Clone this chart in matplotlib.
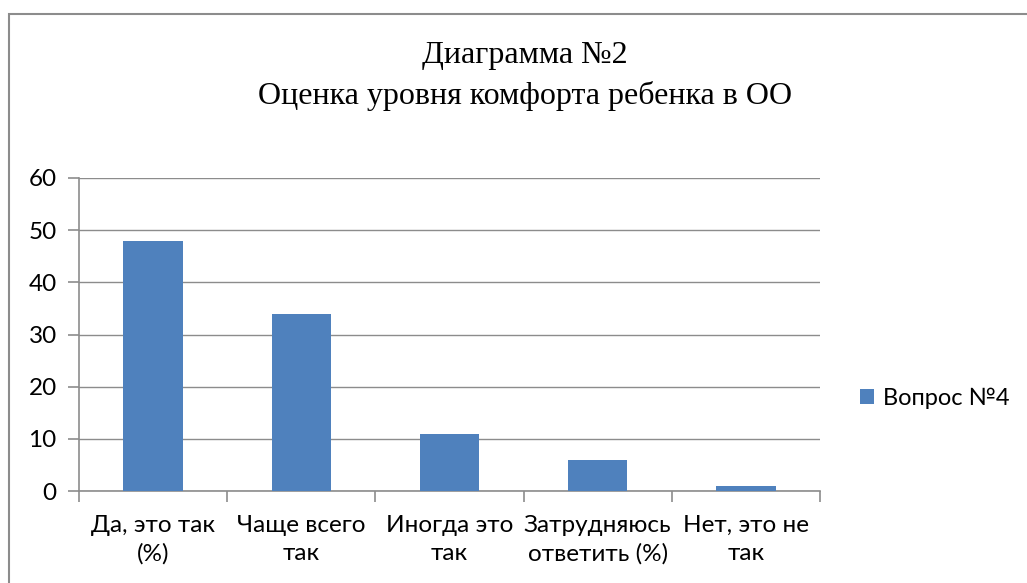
import matplotlib
matplotlib.use('Agg')
import matplotlib.pyplot as plt
from matplotlib.patches import Rectangle

# data
categories = ['Да, это так\n(%)', 'Чаще всего\nтак', 'Иногда это\nтак',
              'Затрудняюсь\nответить (%)', 'Нет, это не\nтак']
values = [48, 34, 11, 6, 1]
series_name = 'Вопрос №4'
title = 'Диаграмма №2\nОценка уровня комфорта ребенка в ОО'

plt.rcParams['font.family'] = ['Lato', 'DejaVu Sans']

fig = plt.figure(figsize=(10.27, 5.83), dpi=100)
ax = fig.add_axes([79 / 1027, 1 - 491 / 583, 741 / 1027, 313 / 583])

# chart border (cropped at right and bottom)
fig.patches.append(Rectangle((9 / 1027, -0.1), 1.2, 1 - 14 / 583 + 0.1,
                             transform=fig.transFigure, fill=False,
                             edgecolor='#8c8c8c', linewidth=1.5))

pos = list(range(len(values)))
ax.bar(pos, values, 0.4, color='#4f81bd', label=series_name, zorder=3)

ax.set_xlim(-0.5, len(values) - 0.5)
ax.set_ylim(0, 60)
ax.set_yticks(range(0, 61, 10))
ax.yaxis.grid(True, color='#8c8c8c', linewidth=1)
ax.set_axisbelow(True)

ax.set_xticks(pos)
ax.set_xticklabels(categories, fontsize=17.5, linespacing=1.42)
ax.tick_params(axis='x', length=0, pad=17)
ax.set_xticks([p - 0.5 for p in range(len(values) + 1)], minor=True)
ax.tick_params(axis='x', which='minor', length=8, color='#8c8c8c', width=1.2)
ax.tick_params(axis='y', length=8, color='#8c8c8c', width=1.2, labelsize=17.5, pad=8)

for s in ['top', 'right']:
    ax.spines[s].set_visible(False)
for s in ['left', 'bottom']:
    ax.spines[s].set_color('#8c8c8c')
    ax.spines[s].set_linewidth(1.2)

fig.text(525 / 1027, 1 - 76 / 583, title, ha='center', va='center',
         fontsize=23, family=['Liberation Serif'], linespacing=1.45)

ax.legend(loc='center left', bbox_to_anchor=(1.025, 0.297), frameon=False,
          fontsize=17, handlelength=0.6, handleheight=0.6, handletextpad=0.4)

fig.savefig('out.png', dpi=100)
